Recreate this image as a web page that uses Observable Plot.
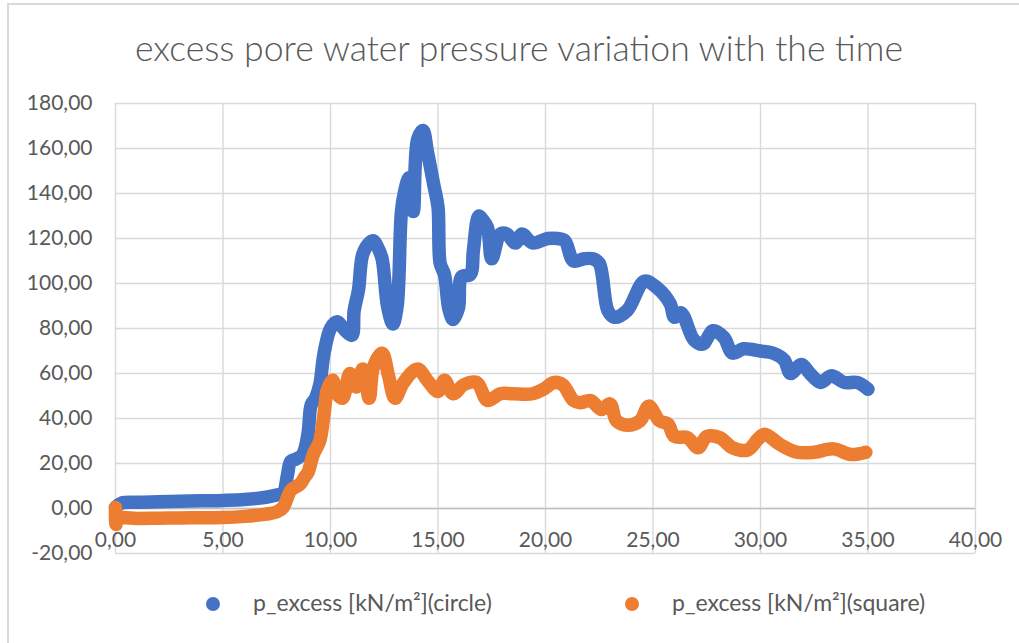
<!DOCTYPE html>
<html>
<head>
<meta charset="utf-8">
<script src="https://cdn.jsdelivr.net/npm/d3@7"></script>
<script src="https://cdn.jsdelivr.net/npm/@observablehq/plot@0.6"></script>
<style>
  html, body { margin: 0; padding: 0; background: #fff; }
  #chart { position: relative; width: 1019px; height: 643px; overflow: hidden; font-family: Lato, "Open Sans", sans-serif; color: #595959; }
  #frame { position: absolute; left: 7px; top: 3px; width: 1100px; height: 700px; border-top: 2px solid #d9d9d9; border-left: 2px solid #d9d9d9; }
  #title { position: absolute; left: 7px; width: 1024px; top: 27px; text-align: center; font-size: 35.6px; font-weight: 300; line-height: 1.2; white-space: nowrap; }
  #plot { position: absolute; left: 0; top: 80px; }
  .leg { position: absolute; top: 589px; font-size: 23px; line-height: 1.2; white-space: nowrap; }
  .dot { position: absolute; width: 14px; height: 14px; border-radius: 50%; top: 597px; }
</style>
</head>
<body>
<div id="chart">
  <div id="frame"></div>
  <div id="title"></div>
  <div id="plot"></div>
  <div class="dot" id="dot0"></div><div class="leg" id="leg0"></div>
  <div class="dot" id="dot1"></div><div class="leg" id="leg1"></div>
</div>
<script>
const titleText = "excess pore water pressure variation with the time";
const seriesNames = ["p_excess [kN/m²](circle)", "p_excess [kN/m²](square)"];
const seriesColors = ["#4472C4", "#ED7D31"];
const xTicks = [0, 5, 10, 15, 20, 25, 30, 35, 40];
const yTicks = [-20, 0, 20, 40, 60, 80, 100, 120, 140, 160, 180];

// [time, p_excess]
const circleSeries = [
  [0,0.5],[0.3,2.5],[1,2.8],[2,3],[3,3.2],[4,3.4],[5,3.6],[6,4],[7,5],[7.5,6],[7.8,7],
  [8.0,15],[8.15,21],[8.4,22],[8.7,24],[8.95,33],[9.1,46],[9.3,49],[9.5,55],[9.7,69],
  [10.0,80],[10.3,83],[10.7,79],[11.0,77],[11.1,88],[11.3,97],[11.5,113],[11.8,118],
  [12.0,119],[12.2,116],[12.4,111],[12.65,90],[12.9,82],[13.1,90],[13.3,132],[13.45,141],[13.65,147],
  [13.85,132],[14.05,164],[14.3,168],[14.5,159],[14.8,144],[15.0,134],[15.1,109],[15.3,104],
  [15.5,89],[15.7,84],[15.95,89],[16.1,103],[16.5,104],[16.65,115],[16.9,130],[17.1,128],
  [17.3,125],[17.5,111],[17.9,122],[18.2,122],[18.6,118],[18.9,122],[19.4,118],[20.1,120],
  [20.55,120],[20.9,119],[21.3,110],[21.8,111],[22.2,111],[22.5,109],[22.9,88],[23.2,85],
  [23.8,88],[24.6,101],[25.2,98],[25.8,91],[26.0,85],[26.3,87],[26.9,75],[27.3,73],
  [27.8,79],[28.3,76],[28.7,69],[29.2,71],[30.0,70],[30.6,69],[31.1,66],[31.4,60],
  [31.9,64],[32.3,60],[32.8,56],[33.3,59],[33.9,56],[34.5,56],[35.0,53]
];
const squareSeries = [
  [0,0.5],[0.02,-7],[0.1,-4.5],[1,-4.4],[2,-4.3],[3,-4.2],[4,-4.1],[5,-4],[6,-3.5],[7,-2.5],
  [7.5,-1.5],[7.8,0.5],[8.0,5],[8.15,8],[8.6,11],[8.8,14],[8.95,16],[9.2,24],[9.5,30],[9.7,42],
  [9.86,53],[10.1,57],[10.3,51],[10.56,49],[10.9,60],[11.2,54],[11.5,62],[11.8,49],[12.0,63],
  [12.4,69],[12.7,59],[13.0,49],[13.4,56],[14.05,62],[14.5,57],[15.0,52],[15.3,57],[15.7,51],
  [16.2,55],[16.8,56],[17.3,48],[17.9,51],[18.5,51],[19.4,51],[19.9,53],[20.4,56],[20.8,55],
  [21.3,48],[21.6,47],[22.1,48],[22.6,44],[23.0,46.5],[23.3,39],[23.8,37],[24.4,39],[24.8,45.5],
  [25.3,39],[25.7,37.5],[26.0,32],[26.6,31.5],[27.1,27],[27.5,32],[28.1,31.5],[28.7,27],
  [29.4,26],[29.9,31],[30.2,33],[30.9,28.5],[31.7,25],[32.5,25],[33.4,26.5],[34.2,24],[34.9,25]
];

const fmt = d => d.toFixed(2).replace(".", ",");
const grid = "#d9d9d9";

document.getElementById("title").textContent = titleText;
[0, 1].forEach(i => {
  document.getElementById("leg" + i).textContent = seriesNames[i];
  document.getElementById("dot" + i).style.background = seriesColors[i];
});
document.getElementById("dot0").style.left = "206px";
document.getElementById("leg0").style.left = "253px";
document.getElementById("dot1").style.left = "625px";
document.getElementById("leg1").style.left = "672px";

const lineOpts = (color) => ({
  x: d => d[0], y: d => d[1], stroke: color, strokeWidth: 13.5,
  strokeLinecap: "round", strokeLinejoin: "round", curve: "catmull-rom"
});

const chart = Plot.plot({
  width: 1019,
  height: 500,
  marginLeft: 115,
  marginRight: 44,
  marginTop: 23,
  marginBottom: 27,
  style: { fontFamily: "Lato, 'Open Sans', sans-serif", background: "transparent", overflow: "visible" },
  x: { domain: [0, 40], ticks: xTicks, axis: null },
  y: { domain: [-20, 180], ticks: yTicks },
  marks: [
    Plot.gridY(yTicks, { stroke: grid, strokeOpacity: 1, strokeWidth: 1.4 }),
    Plot.gridX(xTicks, { stroke: grid, strokeOpacity: 1, strokeWidth: 1.4 }),
    Plot.ruleY([0], { stroke: "#bfbfbf", strokeWidth: 1.6 }),
    Plot.axisY(yTicks, { tickSize: 0, tickPadding: 23, tickFormat: fmt, fontSize: 21, fill: "#595959", label: null }),
    Plot.line(circleSeries, lineOpts(seriesColors[0])),
    Plot.line(squareSeries, lineOpts(seriesColors[1])),
    Plot.text(xTicks, { x: d => d, y: 0, dy: 32, text: fmt, fontSize: 21, fill: "#595959" })
  ]
});
document.getElementById("plot").appendChild(chart);
</script>
</body>
</html>
